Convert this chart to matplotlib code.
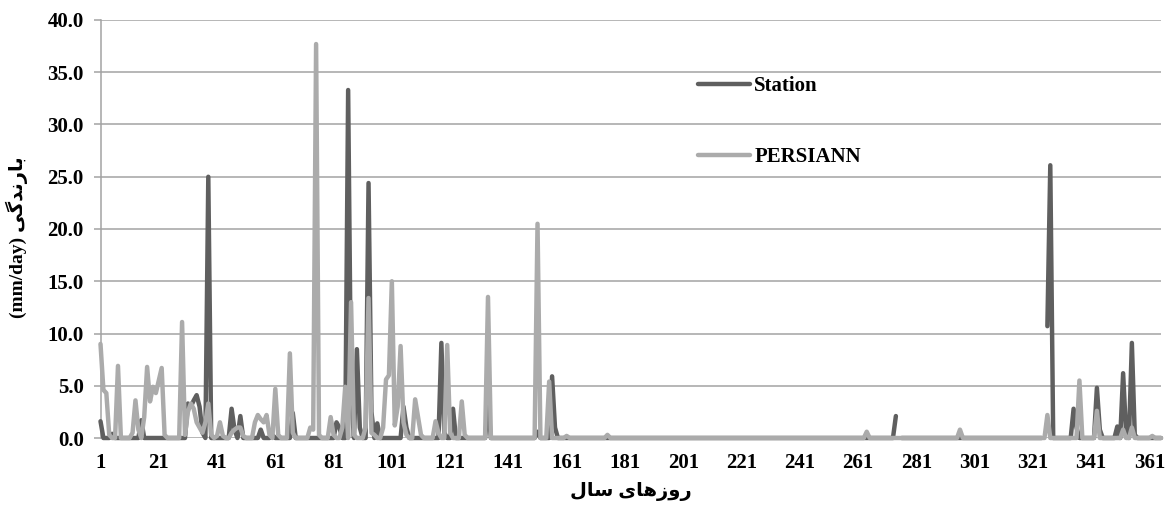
import numpy as np
import matplotlib
matplotlib.use('agg')
import matplotlib.pyplot as plt

# daily rainfall, days not listed are 0 (nan = gap in the record)
station_days = [1, 5, 15, 31, 32, 33, 34, 35, 36, 38, 46, 47, 49, 56, 60, 67,
                82, 83, 86, 87, 89, 90, 93, 94, 96, 105, 106, 118, 119, 122,
                134, 151, 156, 157, 274, 275, 325, 326, 327, 335, 336, 343,
                344, 350, 352, 353, 355, 356]
station_vals = [1.6, 0.4, 1.7, 3.3, 3.0, 3.6, 4.1, 3.0, 0.5, 25.0, 2.8, 0.8, 2.1,
                0.8, 0.3, 2.4, 1.5, 1.0, 33.3, 4.0, 8.5, 1.0, 24.4, 2.5, 1.4,
                3.0, 1.0, 9.1, 0.5, 2.8, 3.0, 0.6, 5.9, 1.0, 2.1, np.nan,
                np.nan, 10.7, 26.1, 2.8, 1.0, 4.8, 0.8, 1.1, 6.2, 0.5, 9.1, 0.3]

persiann_days = [1, 2, 3, 4, 7, 12, 13, 14, 16, 17, 18, 19, 20, 21, 22, 23, 29,
                 30, 31, 32, 33, 34, 35, 36, 37, 38, 39, 41, 42, 43, 46, 47, 48,
                 49, 50, 54, 55, 56, 57, 58, 59, 61, 62, 66, 67, 73, 74, 75, 76,
                 80, 81, 84, 85, 87, 88, 92, 93, 94, 95, 98, 99, 100, 101, 102,
                 103, 104, 105, 106, 109, 110, 111, 116, 117, 120, 121, 125, 126,
                 134, 151, 155, 161, 175, 264, 296, 326, 337, 343, 352, 355, 362]
persiann_vals = [9.0, 4.6, 4.3, 0.3, 6.9, 0.5, 3.6, 0.8, 2.0, 6.8, 3.5, 4.9, 4.3,
                 5.5, 6.7, 0.3, 11.1, 0.3, 2.5, 3.3, 2.8, 1.5, 1.0, 0.5, 1.5, 3.3,
                 0.3, 0.2, 1.5, 0.2, 0.5, 0.8, 1.0, 1.0, 0.2, 1.5, 2.2, 1.8, 1.5,
                 2.2, 0.3, 4.7, 0.3, 8.1, 0.5, 1.0, 0.8, 37.7, 0.3, 2.0, 0.3, 1.0,
                 4.9, 13.0, 0.3, 1.0, 13.4, 0.5, 0.3, 1.0, 5.6, 6.0, 15.0, 1.2,
                 3.0, 8.8, 1.5, 0.3, 3.7, 2.0, 0.3, 1.6, 0.5, 8.9, 0.5, 3.5, 0.3,
                 13.5, 20.5, 5.4, 0.2, 0.3, 0.6, 0.8, 2.2, 5.5, 2.6, 0.8, 1.0, 0.2]

days = np.arange(1, 366)
station = np.zeros(365)
station[np.array(station_days) - 1] = station_vals
persiann = np.zeros(365)
persiann[np.array(persiann_days) - 1] = persiann_vals

xticks = list(range(1, 362, 20))
yticks = np.arange(0, 40.1, 5)

# Persian labels, pre-shaped (presentation forms) in visual order
ylabel_txt = '(mm/day) ' + '\ufbfd\ufb94\ufeaa\ufee7\ufead\ufe8e\ufe91'
xlabel_txt = '\ufedd\ufe8e\ufeb3' + ' ' + '\ufbfc\ufe8e\ufeeb\ufeaf\ufeed\ufead'

fam = ['Liberation Serif', 'DejaVu Sans']
plt.rcParams['font.family'] = fam
plt.rcParams['font.weight'] = 'bold'

fig = plt.figure(figsize=(11.72, 5.11), dpi=100)
ax = fig.add_axes([100.5 / 1172, 73 / 511, 1060.5 / 1172, 418 / 511])

grid_c = '#a3a3a3'
for yv in yticks:
    ax.axhline(yv, color=grid_c, lw=1.1, zorder=1)

ax.plot(days, station, color='#5f5f5f', lw=3.2, label='Station',
        solid_joinstyle='round', solid_capstyle='round', zorder=3, clip_on=False)
ax.plot(days, persiann, color='#ababab', lw=3.2, label='PERSIANN',
        solid_joinstyle='round', solid_capstyle='round', zorder=4, clip_on=False)

ax.set_xlim(1, 365)
ax.set_ylim(0, 40)
ax.set_xticks(xticks)
ax.set_yticks(yticks)
ax.set_yticklabels(['%.1f' % v for v in yticks])
ax.tick_params(axis='x', length=0, pad=11, labelsize=15)
ax.tick_params(axis='y', length=5, width=1.1, color=grid_c, pad=7, labelsize=15)

for s in ['top', 'right', 'bottom']:
    ax.spines[s].set_visible(False)
ax.spines['left'].set_color(grid_c)
ax.spines['left'].set_linewidth(1.1)

ax.set_ylabel(ylabel_txt, fontsize=14, fontweight='bold', family=fam)
ax.yaxis.set_label_coords(-0.068, 0.48)
ax.set_xlabel(xlabel_txt, fontsize=14, fontweight='bold', family=fam)
ax.xaxis.set_label_coords(0.5, -0.105)

leg = ax.legend(loc='upper left', bbox_to_anchor=(0.563, 0.866), frameon=False,
                handlelength=2.5, handletextpad=0.22, labelspacing=2.45,
                borderpad=0, borderaxespad=0, prop={'size': 15, 'weight': 'bold'})

fig.savefig('out.png', dpi=100)
